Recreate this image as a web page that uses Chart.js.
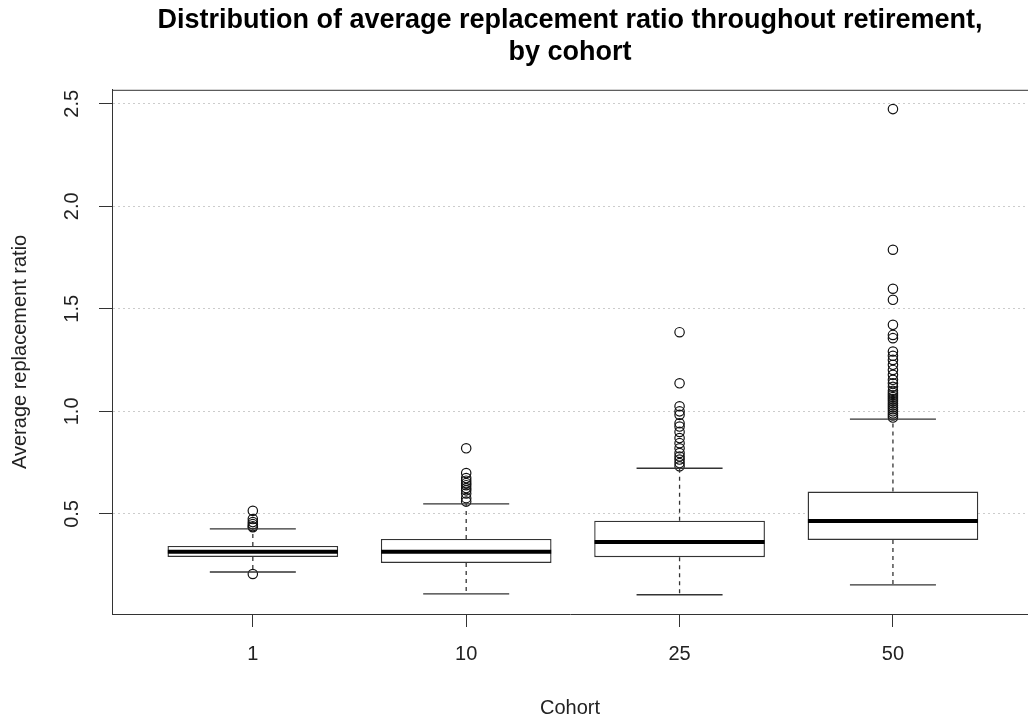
<!DOCTYPE html>
<html>
<head>
<meta charset="utf-8">
<script src="https://cdn.jsdelivr.net/npm/chart.js@4/dist/chart.umd.min.js"></script>
<style>
  html, body { margin: 0; padding: 0; background: #fff; overflow: hidden; }
  #wrap { width: 1028px; height: 722px; position: relative; }
</style>
</head>
<body>
<div id="wrap"><canvas id="box-chart"></canvas></div>
<script>
// Cohorts on the x axis and the y tick values
var cohorts = ['1', '10', '25', '50'];
var yTicks = [0.5, 1.0, 1.5, 2.0, 2.5];

// Five-number summaries
var lowerWhisker = [0.217, 0.110, 0.106, 0.154];
var q1 = [0.290, 0.261, 0.289, 0.373];
var median = [0.315, 0.315, 0.363, 0.466];
var q3 = [0.344, 0.378, 0.467, 0.609];
var upperWhisker = [0.427, 0.549, 0.723, 0.962];

// Outliers per cohort
var outliers1 = [0.207, 0.435, 0.44, 0.45, 0.46, 0.475, 0.515];
var outliers10 = [0.56, 0.577, 0.60, 0.615, 0.626, 0.64, 0.65, 0.662, 0.675, 0.699, 0.82];
var outliers25 = [0.732, 0.748, 0.765, 0.78, 0.797, 0.82, 0.845, 0.87, 0.90, 0.926, 0.942, 0.983, 1.0, 1.025, 1.137, 1.386];
var outliers50 = [0.97, 0.98, 0.99, 1.0, 1.01, 1.02, 1.03, 1.04, 1.05, 1.06, 1.07, 1.08, 1.09, 1.10, 1.12,
                  1.137, 1.154, 1.178, 1.202, 1.227, 1.251, 1.271, 1.292, 1.357, 1.373, 1.422, 1.544, 1.598, 1.788, 2.474];
var outliers = [outliers1, outliers10, outliers25, outliers50];

// Build the datasets
var boxData = [];
var medianData = [];
var capData = [];
var whiskerData = [];
var outlierData = [];
cohorts.forEach(function(c, i) {
    var x = i + 1;
    boxData.push({ x: x, y: [q1[i], q3[i]] });
    medianData.push({ x: x, y: median[i] });
    capData.push({ x: x, y: lowerWhisker[i] });
    capData.push({ x: x, y: upperWhisker[i] });
    whiskerData.push({ x: x, y: q1[i] }, { x: x, y: lowerWhisker[i] }, { x: x, y: null });
    whiskerData.push({ x: x, y: q3[i] }, { x: x, y: upperWhisker[i] }, { x: x, y: null });
    outliers[i].forEach(function(v) {
        outlierData.push({ x: x, y: v });
    });
});

var ink = '#333333';
var font = 'Liberation Sans, Arial, sans-serif';

// Rotated y tick labels and the top frame line, R style
var framePlugin = {
    id: 'frame',
    afterDraw: function(chart) {
        var ctx = chart.ctx;
        var area = chart.chartArea;
        var y = chart.scales.y;
        ctx.save();
        ctx.strokeStyle = ink;
        ctx.lineWidth = 1;
        ctx.beginPath();
        ctx.moveTo(area.left, area.top + 0.5);
        ctx.lineTo(area.right, area.top + 0.5);
        ctx.stroke();

        ctx.fillStyle = '#222';
        ctx.font = '20px ' + font;
        ctx.textAlign = 'center';
        ctx.textBaseline = 'middle';
        y.ticks.forEach(function(t) {
            var py = y.getPixelForValue(t.value);
            ctx.save();
            ctx.translate(72, py);
            ctx.rotate(-Math.PI / 2);
            ctx.fillText(t.value.toFixed(1), 0, 0);
            ctx.restore();
        });
        ctx.restore();
    }
};

var ctx = document.getElementById('box-chart').getContext('2d');
var boxChart = new Chart(ctx, {
    type: 'bar',
    data: {
        datasets: [
            {
                type: 'scatter',
                label: 'Median',
                data: medianData,
                pointStyle: 'line',
                pointRadius: 85,
                borderColor: '#000',
                borderWidth: 4,
                order: 0
            },
            {
                type: 'bar',
                label: 'Box',
                data: boxData,
                backgroundColor: '#ffffff',
                borderColor: ink,
                borderWidth: 1.4,
                borderSkipped: false,
                barPercentage: 0.8,
                categoryPercentage: 1,
                order: 1
            },
            {
                type: 'scatter',
                label: 'Whisker caps',
                data: capData,
                pointStyle: 'line',
                pointRadius: 43,
                borderColor: ink,
                borderWidth: 1.4,
                order: 2
            },
            {
                type: 'line',
                label: 'Whiskers',
                data: whiskerData,
                borderColor: ink,
                borderWidth: 1.3,
                borderDash: [4, 4],
                pointRadius: 0,
                spanGaps: false,
                order: 3
            },
            {
                type: 'scatter',
                label: 'Outliers',
                data: outlierData,
                pointStyle: 'circle',
                pointRadius: 4.7,
                backgroundColor: 'rgba(0,0,0,0)',
                borderColor: '#111',
                borderWidth: 1.2,
                order: 4
            }
        ]
    },
    options: {
        responsive: true,
        maintainAspectRatio: false,
        animation: false,
        layout: { padding: 0, autoPadding: false },
        scales: {
            x: {
                type: 'linear',
                offset: false,
                min: 0.34,
                max: 4.633,
                afterBuildTicks: function(scale) {
                    scale.ticks = cohorts.map(function(c, i) { return { value: i + 1 }; });
                },
                afterFit: function(scale) { scale.height = 108; },
                ticks: {
                    color: '#222',
                    font: { family: font, size: 20 },
                    padding: 15,
                    maxRotation: 0,
                    callback: function(v) { return cohorts[v - 1]; }
                },
                grid: {
                    drawOnChartArea: false,
                    offset: false,
                    tickLength: 13,
                    tickColor: ink,
                    tickWidth: 1
                },
                border: { color: ink, width: 1 },
                title: {
                    display: true,
                    text: 'Cohort',
                    color: '#222',
                    font: { family: font, size: 20 },
                    padding: { top: 0, bottom: 2 }
                }
            },
            y: {
                min: 0.012,
                max: 2.568,
                afterBuildTicks: function(scale) {
                    scale.ticks = yTicks.map(function(v) { return { value: v }; });
                },
                afterFit: function(scale) { scale.width = 112; },
                ticks: { display: false },
                grid: {
                    color: '#cccccc',
                    lineWidth: 1,
                    tickLength: 13,
                    tickColor: ink,
                    tickWidth: 1,
                    tickBorderDash: []
                },
                border: { color: ink, width: 1, dash: [2, 3] },
                title: {
                    display: true,
                    text: 'Average replacement ratio',
                    color: '#222',
                    font: { family: font, size: 20 },
                    padding: { top: 8, bottom: 0 }
                }
            }
        },
        plugins: {
            legend: { display: false },
            tooltip: { enabled: false },
            title: {
                display: true,
                fullSize: false,
                text: ['Distribution of average replacement ratio throughout retirement,', 'by cohort'],
                color: '#000',
                font: { family: font, size: 27, weight: 'bold', lineHeight: 1.2 },
                padding: { top: 4, bottom: 21 }
            }
        }
    },
    plugins: [framePlugin]
});
</script>
</body>
</html>
